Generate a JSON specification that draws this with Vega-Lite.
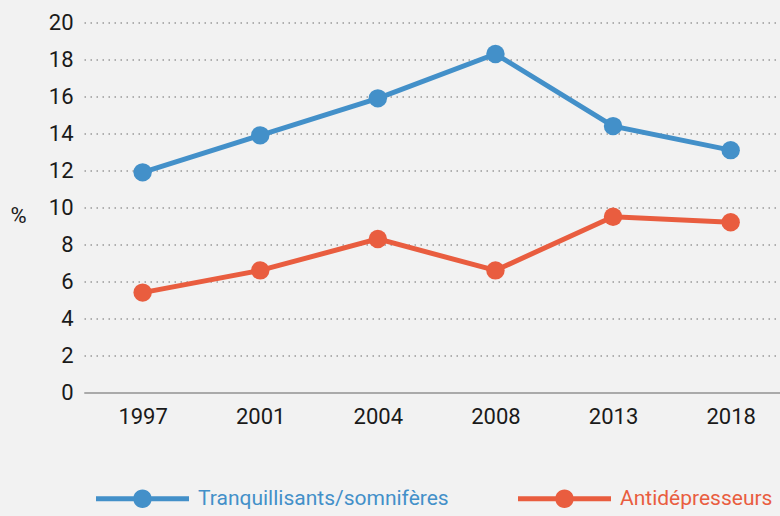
{
  "$schema": "https://vega.github.io/schema/vega-lite/v6.json",
  "autosize": "none",
  "width": 696,
  "height": 370,
  "padding": {"left": 84, "top": 22.5, "right": 0, "bottom": 123.5},
  "background": "#f2f2f2",
  "config": {
    "view": {"stroke": null},
    "font": "Roboto, sans-serif"
  },
  "data": {
    "values": [
      {"annee": "1997", "serie": "Tranquillisants/somnifères", "valeur": 11.9},
      {"annee": "2001", "serie": "Tranquillisants/somnifères", "valeur": 13.9},
      {"annee": "2004", "serie": "Tranquillisants/somnifères", "valeur": 15.9},
      {"annee": "2008", "serie": "Tranquillisants/somnifères", "valeur": 18.3},
      {"annee": "2013", "serie": "Tranquillisants/somnifères", "valeur": 14.4},
      {"annee": "2018", "serie": "Tranquillisants/somnifères", "valeur": 13.1},
      {"annee": "1997", "serie": "Antidépresseurs", "valeur": 5.4},
      {"annee": "2001", "serie": "Antidépresseurs", "valeur": 6.6},
      {"annee": "2004", "serie": "Antidépresseurs", "valeur": 8.3},
      {"annee": "2008", "serie": "Antidépresseurs", "valeur": 6.6},
      {"annee": "2013", "serie": "Antidépresseurs", "valeur": 9.5},
      {"annee": "2018", "serie": "Antidépresseurs", "valeur": 9.2}
    ]
  },
  "encoding": {
    "x": {
      "field": "annee",
      "type": "ordinal",
      "scale": {"type": "point", "padding": 0.459, "align": 0.543},
      "axis": {
        "title": null,
        "labelAngle": 0,
        "labelFontSize": 22,
        "labelColor": "#1a1a1a",
        "labelPadding": 14,
        "ticks": false,
        "domainColor": "#aaaaaa",
        "domainWidth": 2,
        "grid": false
      }
    },
    "y": {
      "field": "valeur",
      "type": "quantitative",
      "scale": {"domain": [0, 20], "nice": false},
      "axis": {
        "values": [0, 2, 4, 6, 8, 10, 12, 14, 16, 18, 20],
        "title": "%",
        "titleAngle": 0,
        "titleFontSize": 22,
        "titleFontWeight": "normal",
        "titleColor": "#1a1a1a",
        "titleX": -66,
        "titleY": 193,
        "titleAlign": "center",
        "titleBaseline": "middle",
        "labelFontSize": 22,
        "labelColor": "#1a1a1a",
        "labelPadding": 11,
        "ticks": false,
        "domain": false,
        "grid": true,
        "gridColor": "#999999",
        "gridDash": [1.5, 4.5],
        "gridWidth": 1.5
      }
    },
    "color": {
      "field": "serie",
      "type": "nominal",
      "scale": {
        "domain": ["Tranquillisants/somnifères", "Antidépresseurs"],
        "range": ["#4390c9", "#e95d3f"]
      },
      "legend": {
        "title": null,
        "orient": "none",
        "direction": "horizontal",
        "legendX": 12,
        "legendY": 429.5,
        "symbolType": "M-1,-0.055H1V0.055H-1Z M0.2,0A0.2,0.2,0,1,1,-0.2,0A0.2,0.2,0,1,1,0.2,0Z",
        "symbolSize": 8649,
        "symbolStrokeWidth": 0,
        "symbolOpacity": 1,
        "labelFontSize": 21,
        "labelOffset": 9,
        "columnPadding": 69,
        "labelLimit": 400,
        "labelColor": {"expr": "datum.value === 'Antidépresseurs' ? '#e95d3f' : '#4390c9'"}
      }
    }
  },
  "layer": [
    {"mark": {"type": "line", "strokeWidth": 5}},
    {"mark": {"type": "circle", "size": 340, "opacity": 1}}
  ]
}
